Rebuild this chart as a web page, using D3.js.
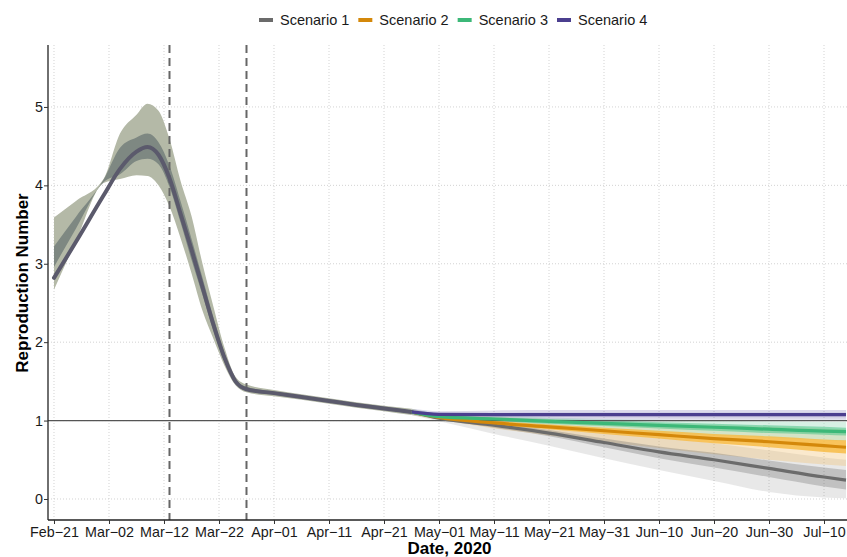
<!DOCTYPE html>
<html>
<head>
<meta charset="utf-8">
<script src="https://cdn.jsdelivr.net/npm/d3@7"></script>
<style>
  body { margin: 0; background: #fff; }
  svg { display: block; font-family: "Liberation Sans", Arial, sans-serif; }
</style>
</head>
<body>
<svg id="chart" width="847" height="557"></svg>
<script>
// ---- data ----
const scenarios = ["Scenario 1", "Scenario 2", "Scenario 3", "Scenario 4"];
const lineColors = ["#6b6b6b", "#d4880a", "#3cb878", "#4b3f8f"];

const histDates = ["2020-02-21", "2020-02-25", "2020-03-01", "2020-03-04", "2020-03-07", "2020-03-09",
  "2020-03-11", "2020-03-13", "2020-03-15", "2020-03-17", "2020-03-19", "2020-03-21", "2020-03-23",
  "2020-03-25", "2020-03-27", "2020-04-01", "2020-04-06", "2020-04-11", "2020-04-16", "2020-04-21", "2020-04-26"];
const histMid  = [2.82, 3.28, 3.87, 4.21, 4.43, 4.49, 4.39, 4.09, 3.64, 3.18, 2.70, 2.22, 1.80, 1.50, 1.40, 1.35, 1.30, 1.25, 1.20, 1.155, 1.11];
const histLo95 = [2.67, 3.29, 4.03, 4.08, 4.13, 4.12, 4.00, 3.73, 3.33, 2.88, 2.40, 2.04, 1.70, 1.45, 1.36, 1.31, 1.265, 1.215, 1.165, 1.12, 1.07];
const histHi95 = [3.59, 3.80, 4.08, 4.66, 4.90, 5.04, 4.95, 4.59, 4.06, 3.61, 3.00, 2.45, 1.93, 1.56, 1.46, 1.39, 1.335, 1.285, 1.235, 1.19, 1.15];
const histLo50 = [2.96, 3.45, 4.04, 4.14, 4.31, 4.34, 4.27, 3.98, 3.53, 3.05, 2.60, 2.14, 1.75, 1.47, 1.38, 1.33, 1.28, 1.23, 1.18, 1.135, 1.09];
const histHi50 = [3.22, 3.60, 4.07, 4.48, 4.61, 4.66, 4.55, 4.25, 3.80, 3.32, 2.82, 2.31, 1.86, 1.53, 1.43, 1.37, 1.32, 1.27, 1.22, 1.175, 1.13];

const projDates = ["2020-04-26", "2020-05-01", "2020-05-11", "2020-05-21", "2020-05-31",
  "2020-06-10", "2020-06-20", "2020-06-30", "2020-07-10", "2020-07-14"];

const s1Mid  = [1.11, 1.03, 0.94, 0.84, 0.72, 0.60, 0.50, 0.39, 0.28, 0.24];
const s1Lo95 = [1.07, 0.99, 0.83, 0.68, 0.52, 0.37, 0.23, 0.09, 0.02, 0.01];
const s1Hi95 = [1.15, 1.08, 1.03, 0.96, 0.88, 0.79, 0.71, 0.62, 0.53, 0.50];
const s1Lo50 = [1.09, 1.02, 0.91, 0.80, 0.66, 0.52, 0.40, 0.28, 0.16, 0.12];
const s1Hi50 = [1.13, 1.05, 0.97, 0.88, 0.77, 0.67, 0.59, 0.49, 0.40, 0.37];

const s2Mid  = [1.11, 1.04, 0.97, 0.92, 0.87, 0.82, 0.77, 0.73, 0.68, 0.66];
const s2Lo95 = [1.07, 1.01, 0.90, 0.81, 0.73, 0.65, 0.57, 0.50, 0.44, 0.42];
const s2Hi95 = [1.15, 1.08, 1.05, 1.02, 0.99, 0.96, 0.94, 0.92, 0.90, 0.89];
const s2Lo50 = [1.09, 1.03, 0.95, 0.89, 0.83, 0.77, 0.71, 0.66, 0.60, 0.58];
const s2Hi50 = [1.13, 1.06, 1.00, 0.95, 0.91, 0.87, 0.83, 0.80, 0.76, 0.75];

const s3Mid  = [1.11, 1.05, 1.02, 0.99, 0.965, 0.94, 0.915, 0.89, 0.865, 0.86];
const s3Lo95 = [1.07, 1.02, 0.97, 0.92, 0.88, 0.84, 0.81, 0.78, 0.75, 0.74];
const s3Hi95 = [1.15, 1.09, 1.06, 1.04, 1.02, 1.01, 1.00, 0.99, 0.985, 0.985];
const s3Lo50 = [1.09, 1.04, 1.00, 0.96, 0.93, 0.90, 0.87, 0.84, 0.82, 0.81];
const s3Hi50 = [1.13, 1.07, 1.04, 1.02, 1.00, 0.98, 0.96, 0.94, 0.92, 0.91];

const s4Mid  = [1.11, 1.08, 1.075, 1.075, 1.075, 1.075, 1.075, 1.075, 1.075, 1.075];
const s4Lo95 = [1.07, 1.04, 1.02, 1.015, 1.01, 1.01, 1.01, 1.01, 1.01, 1.01];
const s4Hi95 = [1.15, 1.12, 1.13, 1.135, 1.135, 1.135, 1.135, 1.135, 1.135, 1.135];
const s4Lo50 = [1.09, 1.06, 1.05, 1.045, 1.04, 1.04, 1.04, 1.04, 1.04, 1.04];
const s4Hi50 = [1.13, 1.10, 1.10, 1.105, 1.105, 1.105, 1.105, 1.105, 1.105, 1.105];

const interventionDates = ["2020-03-13", "2020-03-27"];
const xTickDates = ["2020-02-21", "2020-03-02", "2020-03-12", "2020-03-22", "2020-04-01", "2020-04-11",
  "2020-04-21", "2020-05-01", "2020-05-11", "2020-05-21", "2020-05-31", "2020-06-10", "2020-06-20",
  "2020-06-30", "2020-07-10"];
const yTicks = [0, 1, 2, 3, 4, 5];

// ---- setup ----
const parse = d3.utcParse("%Y-%m-%d");
const svg = d3.select("#chart");
const panel = { left: 48, right: 847, top: 45, bottom: 520 };

const x = d3.scaleUtc()
  .domain([d3.isoParse("2020-02-19T21:50:00Z"), d3.isoParse("2020-07-14T04:20:00Z")])
  .range([panel.left, panel.right]);
const y = d3.scaleLinear().domain([-0.268, 5.79]).range([panel.bottom, panel.top]);

const rows = (dates, mid, lo95, hi95, lo50, hi50) =>
  dates.map((d, i) => ({ date: parse(d), mid: mid[i], lo95: lo95[i], hi95: hi95[i], lo50: lo50[i], hi50: hi50[i] }));

const history = rows(histDates, histMid, histLo95, histHi95, histLo50, histHi50);
const projections = [
  rows(projDates, s1Mid, s1Lo95, s1Hi95, s1Lo50, s1Hi50),
  rows(projDates, s2Mid, s2Lo95, s2Hi95, s2Lo50, s2Hi50),
  rows(projDates, s3Mid, s3Lo95, s3Hi95, s3Lo50, s3Hi50),
  rows(projDates, s4Mid, s4Lo95, s4Hi95, s4Lo50, s4Hi50),
];

const outerFill = [["#666666", 0.15], ["#f0c070", 0.35], ["#9bdabb", 0.4], ["#8a84bc", 0.3]];
const innerFill = [["#666666", 0.3], ["#f7b93e", 0.8], ["#4fc488", 0.55], ["#8a84bc", 0.15]];

svg.append("clipPath").attr("id", "clip")
  .append("rect")
  .attr("x", panel.left).attr("y", panel.top)
  .attr("width", panel.right - panel.left).attr("height", panel.bottom - panel.top);

// grid
const grid = svg.append("g").attr("stroke", "#c8c8c8").attr("stroke-width", 0.8).attr("stroke-dasharray", "1,2");
grid.selectAll(".gx").data(xTickDates).enter().append("line")
  .attr("x1", d => x(parse(d))).attr("x2", d => x(parse(d)))
  .attr("y1", panel.top).attr("y2", panel.bottom);
grid.selectAll(".gy").data(yTicks).enter().append("line")
  .attr("x1", panel.left).attr("x2", panel.right)
  .attr("y1", d => y(d)).attr("y2", d => y(d));

const plot = svg.append("g").attr("clip-path", "url(#clip)");

const band = (lo, hi) => d3.area()
  .x(d => x(d.date)).y0(d => y(d[lo])).y1(d => y(d[hi]))
  .curve(d3.curveMonotoneX);
const midLine = d3.line().x(d => x(d.date)).y(d => y(d.mid)).curve(d3.curveMonotoneX);

// history ribbons
plot.append("path").datum(history).attr("d", band("lo95", "hi95")).attr("fill", "#b4b9a7");
plot.append("path").datum(history).attr("d", band("lo50", "hi50")).attr("fill", "#7e8882");

// projection ribbons
projections.forEach((p, i) => {
  plot.append("path").datum(p).attr("d", band("lo95", "hi95"))
    .attr("fill", outerFill[i][0]).attr("fill-opacity", outerFill[i][1]);
});
projections.forEach((p, i) => {
  plot.append("path").datum(p).attr("d", band("lo50", "hi50"))
    .attr("fill", innerFill[i][0]).attr("fill-opacity", innerFill[i][1]);
});

// reference line at R = 1
plot.append("line")
  .attr("x1", panel.left).attr("x2", panel.right)
  .attr("y1", y(1)).attr("y2", y(1))
  .attr("stroke", "#555").attr("stroke-width", 1.2);

// intervention dates
plot.selectAll(".vline").data(interventionDates).enter().append("line")
  .attr("x1", d => x(parse(d))).attr("x2", d => x(parse(d)))
  .attr("y1", panel.top).attr("y2", panel.bottom)
  .attr("stroke", "#666").attr("stroke-width", 2).attr("stroke-dasharray", "8,5");

// lines
plot.append("path").datum(history).attr("d", midLine)
  .attr("fill", "none").attr("stroke", "#5b5a6c").attr("stroke-width", 4).attr("stroke-linecap", "round");
projections.forEach((p, i) => {
  plot.append("path").datum(p).attr("d", midLine)
    .attr("fill", "none").attr("stroke", lineColors[i]).attr("stroke-width", 3.2);
});

// axes
const xAxis = svg.append("g")
  .attr("transform", `translate(0,${panel.bottom})`)
  .call(d3.axisBottom(x).tickValues(xTickDates.map(parse)).tickFormat(d3.utcFormat("%b\u2212%d")).tickSizeOuter(0).tickSize(4));
const yAxis = svg.append("g")
  .attr("transform", `translate(${panel.left},0)`)
  .call(d3.axisLeft(y).tickValues(yTicks).tickFormat(d3.format("d")).tickSizeOuter(0).tickSize(4));

[xAxis, yAxis].forEach(a => {
  a.select(".domain").attr("stroke", "#222").attr("stroke-width", 1.3);
  a.selectAll(".tick line").attr("stroke", "#333").attr("stroke-width", 1);
  a.selectAll("text").attr("fill", "#1a1a1a").attr("font-size", "14.3px")
    .attr("font-family", "'Liberation Sans', Arial, sans-serif");
});
xAxis.select(".domain").attr("d", `M${panel.left},0H${panel.right}`);
yAxis.select(".domain").attr("d", `M0,${panel.top}V${panel.bottom}`);
xAxis.selectAll("text").attr("dy", null).attr("y", 17);
yAxis.selectAll("text").attr("x", -5);

// axis titles
svg.append("text")
  .attr("x", (panel.left + panel.right) / 2 + 2).attr("y", 554)
  .attr("text-anchor", "middle").attr("font-size", "17px").attr("font-weight", "bold").attr("fill", "#000")
  .text("Date, 2020");
svg.append("text")
  .attr("transform", "translate(28,283) rotate(-90)")
  .attr("text-anchor", "middle").attr("font-size", "17px").attr("font-weight", "bold").attr("fill", "#000")
  .text("Reproduction Number");

// legend
const legend = svg.append("g");
let lx = 259;
scenarios.forEach((s, i) => {
  const g = legend.append("g").attr("transform", `translate(${lx},0)`);
  g.append("line").attr("x1", 0).attr("x2", 14).attr("y1", 20).attr("y2", 20)
    .attr("stroke", lineColors[i]).attr("stroke-width", 4);
  const t = g.append("text").attr("x", 21).attr("y", 25).attr("font-size", "14.5px").attr("fill", "#1a1a1a").text(s);
  lx += 21 + t.node().getComputedTextLength() + 9;
});
</script>
</body>
</html>
